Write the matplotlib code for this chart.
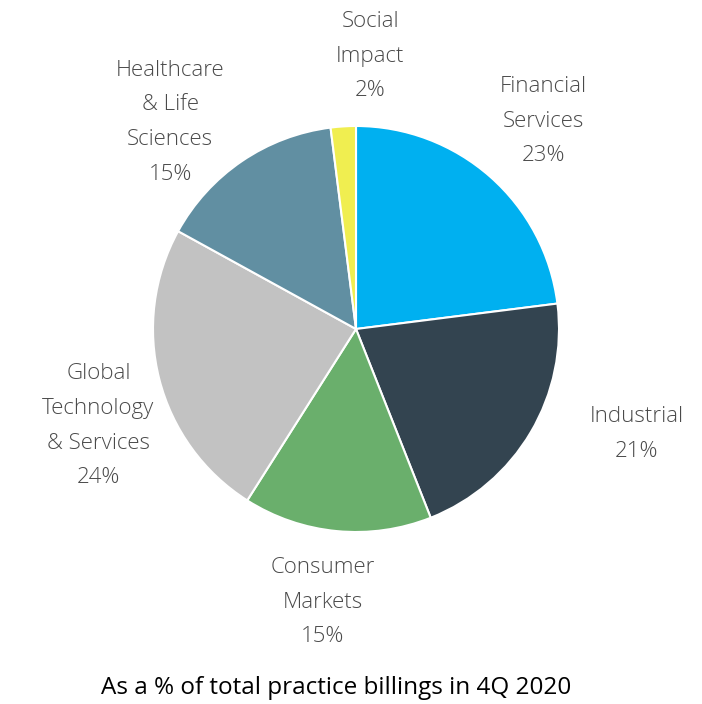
import numpy as np
import matplotlib.pyplot as plt

# practice billings split, clockwise from 12 o'clock
practices = [
    "Financial\nServices",
    "Industrial",
    "Consumer\nMarkets",
    "Global\nTechnology\n& Services",
    "Healthcare\n& Life\nSciences",
    "Social\nImpact",
]
shares = [23, 21, 15, 24, 15, 2]
colors = ["#00B0F0", "#334450", "#6AAF6C", "#C2C2C2", "#618FA2", "#F0EE50"]

# label placement: (angle in degrees, distance in pie radii)
label_pos = [(48.3, 1.39), (-20.0, 1.47), (-97.0, 1.34),
             (-160.0, 1.35), (131.5, 1.38), (87.0, 1.36)]

FONT = ["Open Sans", "DejaVu Sans"]
TEXT_GREY = "#4A4A4A"

fig = plt.figure(figsize=(7.02, 7.04), dpi=100)
R_PX = 203.0
HALF = 350.0
ax = fig.add_axes([(356 - HALF) / 702, (375 - HALF) / 704, 2 * HALF / 702, 2 * HALF / 704])

ax.pie(
    shares,
    colors=colors,
    startangle=90,
    counterclock=False,
    radius=1.0,
    wedgeprops={"edgecolor": "white", "linewidth": 1.5},
)

# small downward nudge so the text block sits on its visual centre
y_nudge = -0.015
for name, share, (ang, dist) in zip(practices, shares, label_pos):
    a = np.deg2rad(ang)
    ax.text(dist * np.cos(a), dist * np.sin(a) + y_nudge, f"{name}\n{share}%",
            ha="center", va="center", color=TEXT_GREY, fontsize=16,
            family=FONT, weight="light", linespacing=1.85)

lim = HALF / R_PX
ax.set_xlim(-lim, lim)
ax.set_ylim(-lim, lim)
ax.set_aspect("equal")
ax.axis("off")

fig.text(336 / 702, 1 - 688 / 704, "As a % of total practice billings in 4Q 2020",
         ha="center", va="center", fontsize=17.5, family=FONT, color="black")

fig.savefig("out.png", dpi=100)
plt.close(fig)
